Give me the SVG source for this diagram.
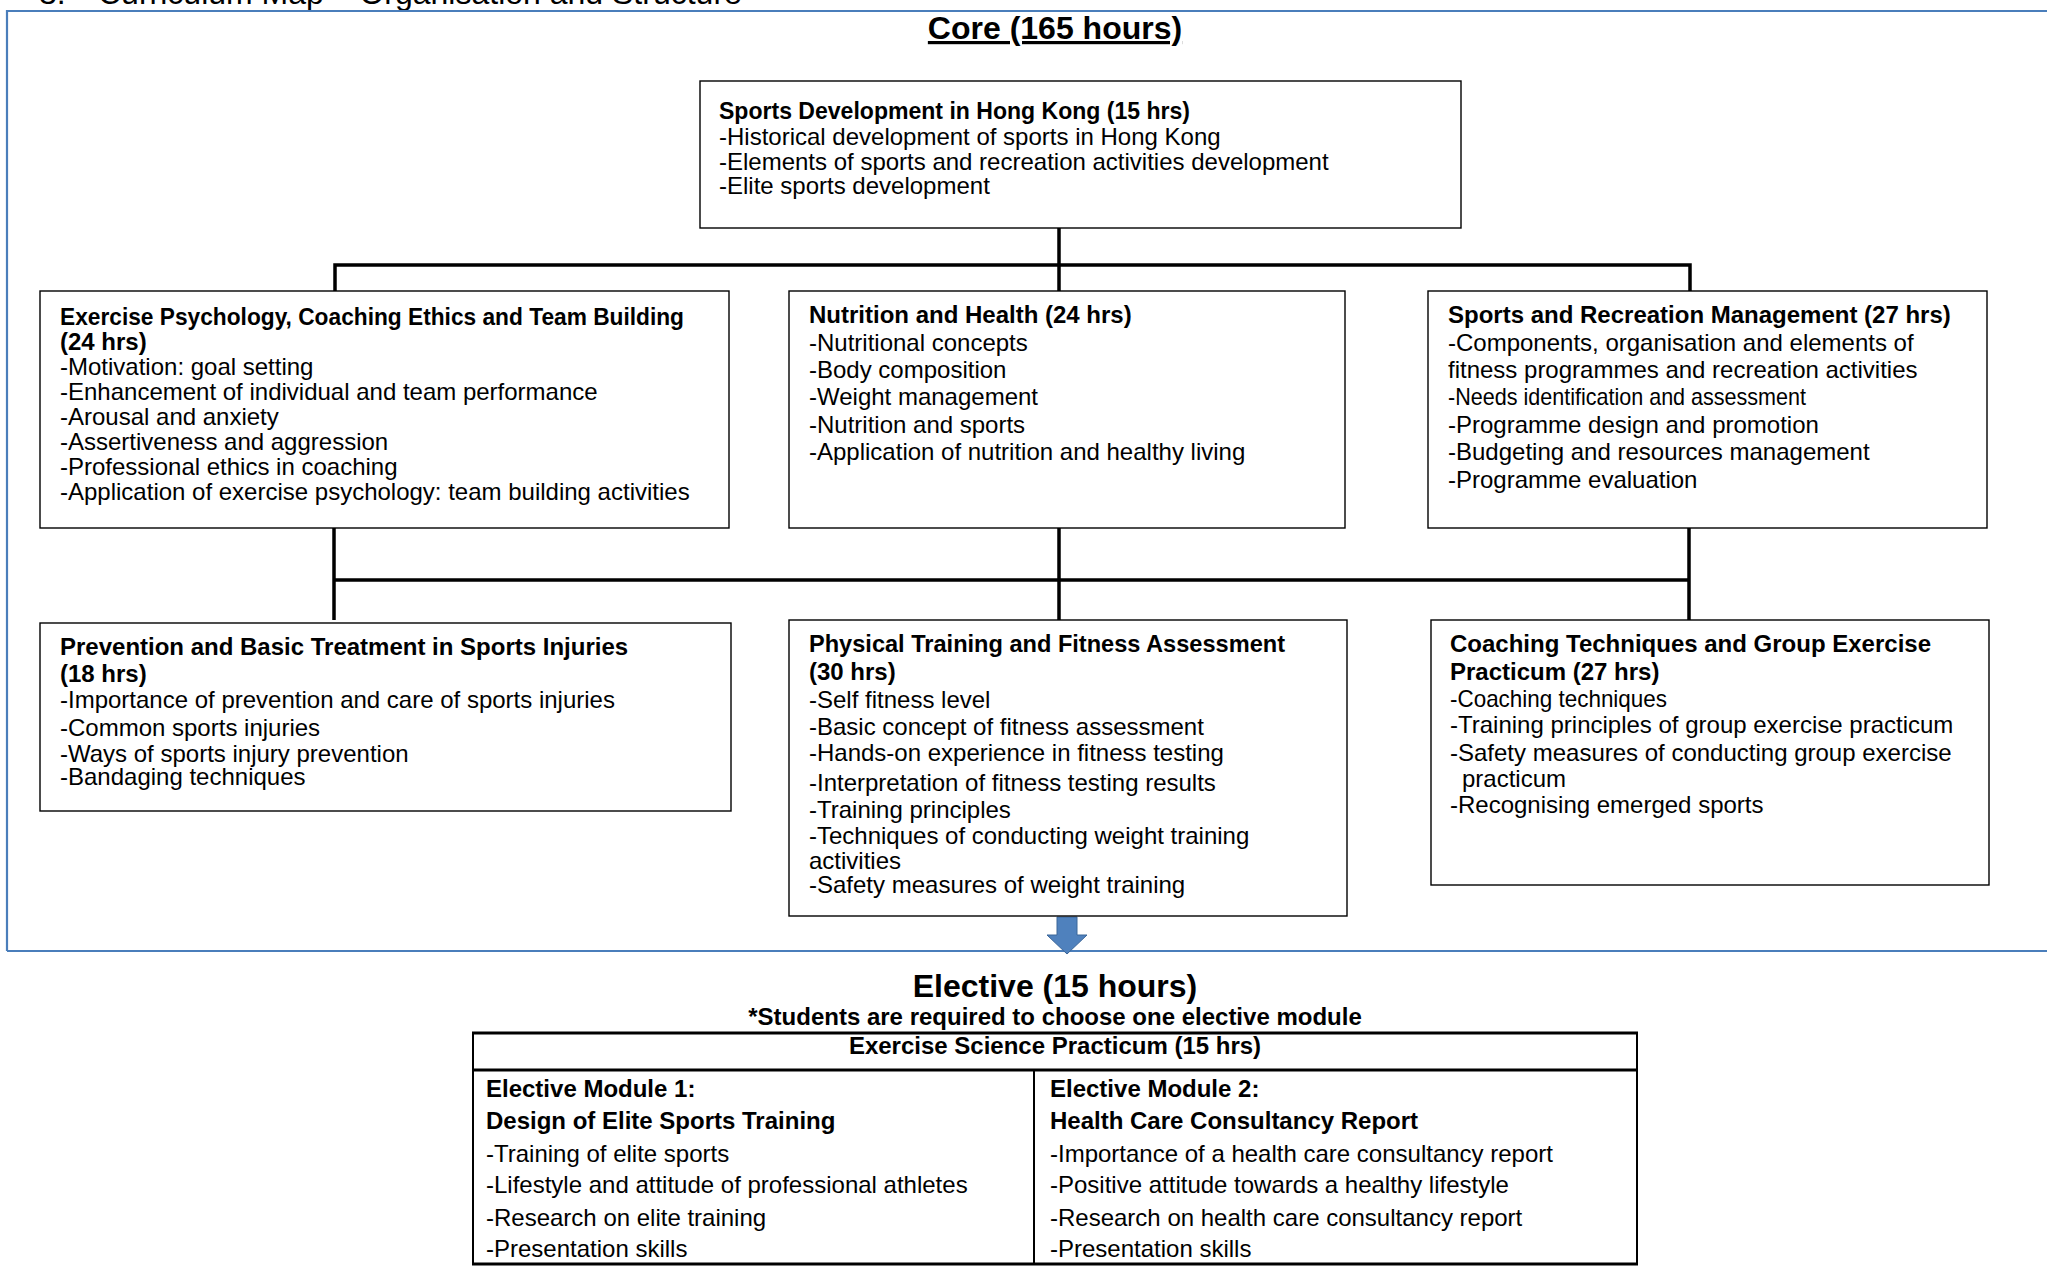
<svg xmlns="http://www.w3.org/2000/svg" width="2047" height="1276" viewBox="0 0 2047 1276">
<style>
.box{fill:#fff;stroke:#000;stroke-width:1.4}
.t{font-family:"Liberation Sans",Arial,sans-serif;font-size:24px;fill:#000}
.b{font-weight:bold}
.h{font-size:32px}
.conn{stroke:#000;stroke-width:3.5;fill:none}
.rule{stroke:#4A7EBB;stroke-width:2.2;fill:none}
.tbl{stroke:#000;fill:none}
</style>
<rect width="2047" height="1276" fill="#fff"/>

<g id="page-frame">
  <text class="t h" x="39" y="4">3.<tspan x="98">Curriculum Map – Organisation and Structure</tspan></text>
  <path class="rule" d="M7 951 V11 H2047 M7 951 H2047"/>
</g>

<g id="core-title">
  <text class="t b h" x="1055" y="39" text-anchor="middle" text-decoration="underline">Core (165 hours)</text>
</g>

<g id="connectors">
  <path class="conn" d="M1059 228 V291 M335 291 V265 H1690 V291"/>
  <path class="conn" d="M334 528 V620 M1059 528 V620 M1689 528 V620 M334 580 H1689"/>
  <polygon points="1057,917 1077,917 1077,935 1087,935 1067,954 1047,935 1057,935" fill="#4F81BD" stroke="#3B6699" stroke-width="1"/>
</g>

<g id="sports-development">
  <rect class="box" x="700" y="81" width="761" height="147"/>
  <text class="t b" x="719" y="119" textLength="471" lengthAdjust="spacingAndGlyphs">Sports Development in Hong Kong (15 hrs)</text>
  <text class="t" x="719" y="145">-Historical development of sports in Hong Kong</text>
  <text class="t" x="719" y="170">-Elements of sports and recreation activities development</text>
  <text class="t" x="719" y="194">-Elite sports development</text>
</g>

<g id="exercise-psychology">
  <rect class="box" x="40" y="291" width="689" height="237"/>
  <text class="t b" x="60" y="325" textLength="624" lengthAdjust="spacingAndGlyphs">Exercise Psychology, Coaching Ethics and Team Building</text>
  <text class="t b" x="60" y="350">(24 hrs)</text>
  <text class="t" x="60" y="375">-Motivation: goal setting</text>
  <text class="t" x="60" y="400">-Enhancement of individual and team performance</text>
  <text class="t" x="60" y="425">-Arousal and anxiety</text>
  <text class="t" x="60" y="450">-Assertiveness and aggression</text>
  <text class="t" x="60" y="475">-Professional ethics in coaching</text>
  <text class="t" x="60" y="500">-Application of exercise psychology: team building activities</text>
</g>

<g id="nutrition-health">
  <rect class="box" x="789" y="291" width="556" height="237"/>
  <text class="t b" x="809" y="323">Nutrition and Health (24 hrs)</text>
  <text class="t" x="809" y="350.5">-Nutritional concepts</text>
  <text class="t" x="809" y="378">-Body composition</text>
  <text class="t" x="809" y="405">-Weight management</text>
  <text class="t" x="809" y="433">-Nutrition and sports</text>
  <text class="t" x="809" y="460">-Application of nutrition and healthy living</text>
</g>

<g id="sports-recreation-management">
  <rect class="box" x="1428" y="291" width="559" height="237"/>
  <text class="t b" x="1448" y="323">Sports and Recreation Management (27 hrs)</text>
  <text class="t" x="1448" y="350.5">-Components, organisation and elements of</text>
  <text class="t" x="1448" y="378">fitness programmes and recreation activities</text>
  <text class="t" x="1448" y="405" textLength="358" lengthAdjust="spacingAndGlyphs">-Needs identification and assessment</text>
  <text class="t" x="1448" y="433">-Programme design and promotion</text>
  <text class="t" x="1448" y="460">-Budgeting and resources management</text>
  <text class="t" x="1448" y="488">-Programme evaluation</text>
</g>

<g id="sports-injuries">
  <rect class="box" x="40" y="623" width="691" height="188"/>
  <text class="t b" x="60" y="655">Prevention and Basic Treatment in Sports Injuries</text>
  <text class="t b" x="60" y="682">(18 hrs)</text>
  <text class="t" x="60" y="708">-Importance of prevention and care of sports injuries</text>
  <text class="t" x="60" y="736">-Common sports injuries</text>
  <text class="t" x="60" y="762">-Ways of sports injury prevention</text>
  <text class="t" x="60" y="785">-Bandaging techniques</text>
</g>

<g id="physical-training">
  <rect class="box" x="789" y="620" width="558" height="296"/>
  <text class="t b" x="809" y="652" textLength="476" lengthAdjust="spacingAndGlyphs">Physical Training and Fitness Assessment</text>
  <text class="t b" x="809" y="680">(30 hrs)</text>
  <text class="t" x="809" y="708">-Self fitness level</text>
  <text class="t" x="809" y="735">-Basic concept of fitness assessment</text>
  <text class="t" x="809" y="761">-Hands-on experience in fitness testing</text>
  <text class="t" x="809" y="791">-Interpretation of fitness testing results</text>
  <text class="t" x="809" y="818">-Training principles</text>
  <text class="t" x="809" y="844">-Techniques of conducting weight training</text>
  <text class="t" x="809" y="869">activities</text>
  <text class="t" x="809" y="893">-Safety measures of weight training</text>
</g>

<g id="coaching-techniques">
  <rect class="box" x="1431" y="620" width="558" height="265"/>
  <text class="t b" x="1450" y="652">Coaching Techniques and Group Exercise</text>
  <text class="t b" x="1450" y="680">Practicum (27 hrs)</text>
  <text class="t" x="1450" y="707" textLength="217" lengthAdjust="spacingAndGlyphs">-Coaching techniques</text>
  <text class="t" x="1450" y="733">-Training principles of group exercise practicum</text>
  <text class="t" x="1450" y="761">-Safety measures of conducting group exercise</text>
  <text class="t" x="1462" y="787">practicum</text>
  <text class="t" x="1450" y="813">-Recognising emerged sports</text>
</g>

<g id="elective-title">
  <text class="t b h" x="1055" y="997" text-anchor="middle">Elective (15 hours)</text>
  <text class="t b" x="1055" y="1025" text-anchor="middle">*Students are required to choose one elective module</text>
</g>

<g id="elective-table">
  <rect x="473" y="1033" width="1164" height="231" fill="#fff" stroke="none"/>
  <path class="tbl" stroke-width="2" d="M473 1033 V1264 M1637 1033 V1264 M1034 1070 V1264"/>
  <path class="tbl" stroke-width="3" d="M472 1033 H1638 M472 1070 H1638 M472 1264 H1638"/>
  <text class="t b" x="1055" y="1054" text-anchor="middle">Exercise Science Practicum (15 hrs)</text>
  <g id="elective-module-1">
    <text class="t b" x="486" y="1097">Elective Module 1:</text>
    <text class="t b" x="486" y="1129">Design of Elite Sports Training</text>
    <text class="t" x="486" y="1162">-Training of elite sports</text>
    <text class="t" x="486" y="1193">-Lifestyle and attitude of professional athletes</text>
    <text class="t" x="486" y="1226">-Research on elite training</text>
    <text class="t" x="486" y="1257">-Presentation skills</text>
  </g>
  <g id="elective-module-2">
    <text class="t b" x="1050" y="1097">Elective Module 2:</text>
    <text class="t b" x="1050" y="1129">Health Care Consultancy Report</text>
    <text class="t" x="1050" y="1162">-Importance of a health care consultancy report</text>
    <text class="t" x="1050" y="1193">-Positive attitude towards a healthy lifestyle</text>
    <text class="t" x="1050" y="1226">-Research on health care consultancy report</text>
    <text class="t" x="1050" y="1257">-Presentation skills</text>
  </g>
</g>
</svg>
